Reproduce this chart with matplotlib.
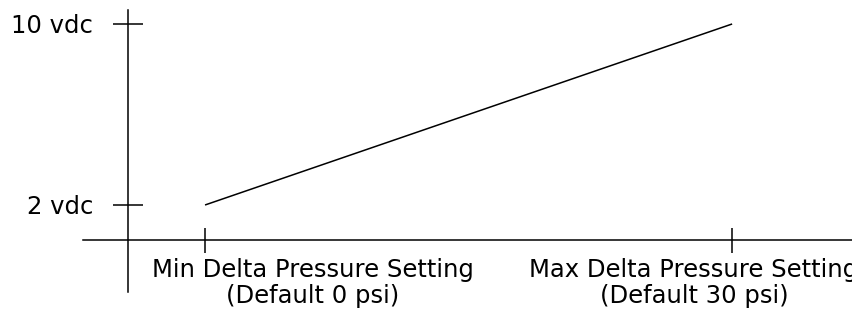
import matplotlib
matplotlib.use("Agg")
import matplotlib.pyplot as plt

# setpoint (psi) vs output signal (vdc)
psi = [0, 30]
vdc = [2, 10]
x_names = ["Min Delta Pressure Setting", "Max Delta Pressure Setting"]
x_defaults = ["(Default 0 psi)", "(Default 30 psi)"]
y_labels = ["2 vdc", "10 vdc"]

plt.rcParams['font.family'] = ['DejaVu Sans']
FS = 17.5

fig = plt.figure(figsize=(8.53, 3.12), dpi=100)
ax = fig.add_axes([0, 0, 1, 1])
ax.set_xlim(-11.67, 36.88)
ax.set_ylim(-2.73, 11.06)
ax.patch.set_visible(False)

ax.plot(psi, vdc, color="black", lw=1.1, solid_capstyle="butt")

for side in ("top", "right"):
    ax.spines[side].set_visible(False)
ax.spines["left"].set_position(("data", -4.38))
ax.spines["bottom"].set_position(("data", 0.45))
ax.spines["left"].set_bounds(-1.85, 10.62)
ax.spines["bottom"].set_bounds(-6.94, 40)
for s in ("left", "bottom"):
    ax.spines[s].set_linewidth(1.1)

ax.set_xticks(psi)
ax.set_xticklabels([])
ax.set_yticks(vdc)
ax.set_yticklabels(y_labels, fontsize=FS)
ax.tick_params(axis="y", direction="inout", length=22, width=1.1, pad=14)
ax.tick_params(axis="x", direction="inout", length=18, width=1.1)

# labels sit off-centre from their ticks in the original drawing
offsets = [6.15, -2.17]
for p, off, name, dflt in zip(psi, offsets, x_names, x_defaults):
    ax.text(p + off, -1.19, name, fontsize=FS, ha="center", va="baseline")
    ax.text(p + off, -2.34, dflt, fontsize=FS, ha="center", va="baseline")

fig.savefig("out.png", dpi=100)
